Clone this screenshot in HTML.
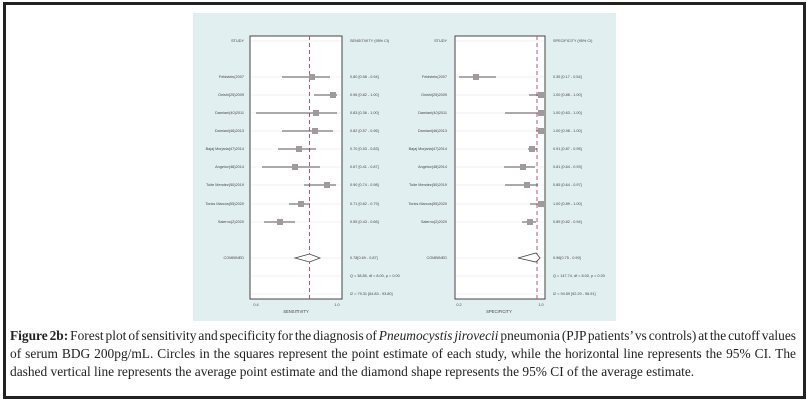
<!DOCTYPE html>
<html><head><meta charset="utf-8"><style>
html,body{margin:0;padding:0;background:#fff;}
body{width:807px;height:400px;position:relative;overflow:hidden;}
.frame{position:absolute;left:3px;top:2px;width:797px;height:391px;border:3px solid #222;box-sizing:content-box;}
.cap{position:absolute;left:10px;top:327px;width:786px;font-family:"Liberation Serif",serif;font-size:13.4px;line-height:18px;color:#222;word-spacing:-2.5px;}
.cap div{text-align:justify;text-align-last:justify;}
.cap div.last{text-align-last:left;word-spacing:0;}
svg{position:absolute;left:0;top:0;}
</style></head><body>
<div class="frame"></div>
<svg width="807" height="400" xmlns="http://www.w3.org/2000/svg" font-family="Liberation Sans, sans-serif">
<rect x="193" y="13" width="423" height="308" fill="#e2eff1"/>
<rect x="250" y="36" width="92" height="263" fill="#fff" stroke="#444" stroke-width="1"/>
<g stroke="#eee" stroke-width="0.8">
<line x1="251" x2="341" y1="41" y2="41"/><line x1="251" x2="341" y1="77" y2="77"/><line x1="251" x2="341" y1="95" y2="95"/><line x1="251" x2="341" y1="113" y2="113"/><line x1="251" x2="341" y1="131" y2="131"/><line x1="251" x2="341" y1="149" y2="149"/><line x1="251" x2="341" y1="167" y2="167"/><line x1="251" x2="341" y1="185" y2="185"/><line x1="251" x2="341" y1="204" y2="204"/><line x1="251" x2="341" y1="222" y2="222"/><line x1="251" x2="341" y1="258" y2="258"/><line x1="251" x2="341" y1="276" y2="276"/><line x1="251" x2="341" y1="294" y2="294"/>
</g>
<line x1="309.5" x2="309.5" y1="36" y2="299" stroke="#c8506e" stroke-width="1" stroke-dasharray="4,3"/>
<g stroke="#555" stroke-width="1">
<line x1="282" x2="330" y1="77" y2="77"/><line x1="314" x2="337" y1="95" y2="95"/><line x1="256" x2="337" y1="113" y2="113"/><line x1="282" x2="333" y1="131" y2="131"/><line x1="278" x2="316" y1="149" y2="149"/><line x1="262" x2="320" y1="167" y2="167"/><line x1="304" x2="336" y1="185" y2="185"/><line x1="289" x2="310" y1="204" y2="204"/><line x1="264" x2="295" y1="222" y2="222"/>
</g>
<g fill="#a09a9e">
<rect x="309" y="74" width="6" height="6"/><rect x="330" y="92" width="6" height="6"/><rect x="313" y="110" width="6" height="6"/><rect x="312" y="128" width="6" height="6"/><rect x="296" y="146" width="6" height="6"/><rect x="292" y="164" width="6" height="6"/><rect x="324" y="182" width="6" height="6"/><rect x="298" y="201" width="6" height="6"/><rect x="277" y="219" width="6" height="6"/>
</g>
<polygon points="295,258 309.5,254 320,258 309.5,262" fill="#fff" stroke="#444" stroke-width="0.8"/>
<g font-size="3.8" fill="#444" text-anchor="end">
<text x="244" y="42">STUDY</text><text x="244" y="78">Feldstein(2007</text><text x="244" y="96">Onishi(25)2009</text><text x="244" y="114">Damiani(40)2011</text><text x="244" y="132">Damiani(46)2013</text><text x="244" y="150">Bajaj Morjaria(47)2014</text><text x="244" y="168">Angelov(48)2014</text><text x="244" y="186">Tuite Mendez(50)2019</text><text x="244" y="205">Tonks Marcos(55)2020</text><text x="244" y="223">Salerno(2)2020</text><text x="244" y="259">COMBINED</text>
</g>
<g font-size="3.8" fill="#444">
<text x="350" y="42">SENSITIVITY (95% CI)</text><text x="350" y="78">0.80 [0.58 - 0.94]</text><text x="350" y="96">0.96 [0.82 - 1.00]</text><text x="350" y="114">0.83 [0.36 - 1.00]</text><text x="350" y="132">0.82 [0.57 - 0.96]</text><text x="350" y="150">0.70 [0.53 - 0.83]</text><text x="350" y="168">0.67 [0.41 - 0.87]</text><text x="350" y="186">0.90 [0.74 - 0.98]</text><text x="350" y="205">0.71 [0.62 - 0.79]</text><text x="350" y="223">0.55 [0.43 - 0.66]</text><text x="350" y="259">0.78[0.69 - 0.87]</text><text x="350" y="277">Q = 38.85, df = 8.00, p = 0.00</text><text x="350" y="295">I2 = 79.31 [64.83 - 93.80]</text>
</g>
<g font-size="3.8" fill="#444" text-anchor="middle">
<text x="256" y="306">0.4</text><text x="337" y="306">1.0</text><text x="296" y="313" font-size="4.2">SENSITIVITY</text>
</g>
<rect x="455" y="36" width="90" height="263" fill="#fff" stroke="#444" stroke-width="1"/>
<g stroke="#eee" stroke-width="0.8">
<line x1="456" x2="544" y1="41" y2="41"/><line x1="456" x2="544" y1="77" y2="77"/><line x1="456" x2="544" y1="95" y2="95"/><line x1="456" x2="544" y1="113" y2="113"/><line x1="456" x2="544" y1="131" y2="131"/><line x1="456" x2="544" y1="149" y2="149"/><line x1="456" x2="544" y1="167" y2="167"/><line x1="456" x2="544" y1="185" y2="185"/><line x1="456" x2="544" y1="204" y2="204"/><line x1="456" x2="544" y1="222" y2="222"/><line x1="456" x2="544" y1="258" y2="258"/><line x1="456" x2="544" y1="276" y2="276"/><line x1="456" x2="544" y1="294" y2="294"/>
</g>
<line x1="537" x2="537" y1="36" y2="299" stroke="#c8506e" stroke-width="1" stroke-dasharray="4,3"/>
<g stroke="#555" stroke-width="1">
<line x1="459" x2="496" y1="77" y2="77"/><line x1="529" x2="543" y1="95" y2="95"/><line x1="505" x2="541" y1="113" y2="113"/><line x1="536" x2="542" y1="131" y2="131"/><line x1="528" x2="537" y1="149" y2="149"/><line x1="504" x2="535" y1="167" y2="167"/><line x1="505" x2="538" y1="185" y2="185"/><line x1="530" x2="541" y1="204" y2="204"/><line x1="522" x2="536" y1="222" y2="222"/>
</g>
<g fill="#a09a9e">
<rect x="473" y="74" width="6" height="6"/><rect x="538" y="92" width="6" height="6"/><rect x="538" y="110" width="6" height="6"/><rect x="538" y="128" width="6" height="6"/><rect x="529" y="146" width="6" height="6"/><rect x="520" y="164" width="6" height="6"/><rect x="524" y="182" width="6" height="6"/><rect x="538" y="201" width="6" height="6"/><rect x="527" y="219" width="6" height="6"/>
</g>
<polygon points="518,258 536,253 540,258 536,262" fill="#fff" stroke="#444" stroke-width="0.8"/>
<g font-size="3.8" fill="#444" text-anchor="end">
<text x="447" y="42">STUDY</text><text x="447" y="78">Feldstein(2007</text><text x="447" y="96">Onishi(25)2009</text><text x="447" y="114">Damiani(40)2011</text><text x="447" y="132">Damiani(46)2013</text><text x="447" y="150">Bajaj Morjaria(47)2014</text><text x="447" y="168">Angelov(48)2014</text><text x="447" y="186">Tuite Mendez(50)2019</text><text x="447" y="205">Tonks Marcos(55)2020</text><text x="447" y="223">Salerno(2)2020</text><text x="447" y="259">COMBINED</text>
</g>
<g font-size="3.8" fill="#444">
<text x="553" y="42">SPECIFICITY (95% CI)</text><text x="553" y="78">0.35 [0.17 - 0.54]</text><text x="553" y="96">1.00 [0.88 - 1.00]</text><text x="553" y="114">1.00 [0.63 - 1.00]</text><text x="553" y="132">1.00 [0.98 - 1.00]</text><text x="553" y="150">0.91 [0.87 - 0.95]</text><text x="553" y="168">0.81 [0.64 - 0.93]</text><text x="553" y="186">0.85 [0.64 - 0.97]</text><text x="553" y="205">1.00 [0.89 - 1.00]</text><text x="553" y="223">0.89 [0.82 - 0.94]</text><text x="553" y="259">0.96[0.75 - 0.99]</text><text x="553" y="277">Q = 147.74, df = 8.00, p = 0.00</text><text x="553" y="295">I2 = 94.59 [92.29 - 96.91]</text>
</g>
<g font-size="3.8" fill="#444" text-anchor="middle">
<text x="459" y="306">0.2</text><text x="541" y="306">1.0</text><text x="499" y="313" font-size="4.2">SPECIFICITY</text>
</g>
</svg>
<div class="cap">
<div><b>Figure 2b:</b> Forest plot of sensitivity and specificity for the diagnosis of <i>Pneumocystis jirovecii</i> pneumonia (PJP patients’ vs controls) at the cutoff values</div>
<div>of serum BDG 200pg/mL. Circles in the squares represent the point estimate of each study, while the horizontal line represents the 95% CI. The</div>
<div class="last">dashed vertical line represents the average point estimate and the diamond shape represents the 95% CI of the average estimate.</div>
</div>
</body></html>
